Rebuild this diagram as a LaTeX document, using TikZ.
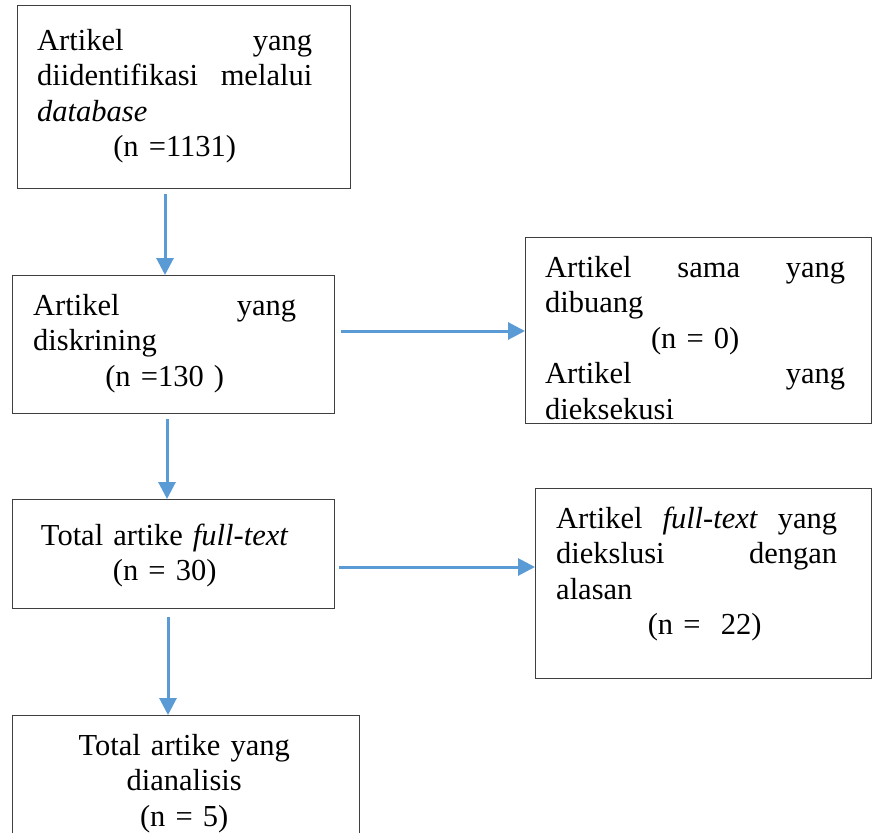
\documentclass[tikz,border=0pt]{standalone}
\usepackage{fontspec}
\setmainfont{Liberation Serif}
\usepackage{tikz}
\usetikzlibrary{arrows.meta, positioning}
\definecolor{flowBlue}{HTML}{5B9BD5}
\definecolor{flowGray}{HTML}{3F3F3F}
\setlength{\parindent}{0pt}

\begin{document}
\begin{tikzpicture}[
  x=1pt, y=-1pt,
  stage/.style={
    rectangle, draw=flowGray, line width=1.3pt,
    inner sep=0pt, anchor=north west,
  },
  stagetext/.style={
    inner sep=0pt, anchor=north west, align=left,
    font=\fontsize{30.5}{35.5}\selectfont,
  },
  arrow/.style={-{Triangle[length=17pt, width=17pt]}, line width=3pt, color=flowBlue},
]
\clip (0,0) rectangle (872,832);

% Boxes
\node[stage, minimum width=333, minimum height=183] (b1) at (17,5) {};
\node[stage, minimum width=322, minimum height=138] (b2) at (12,275) {};
\node[stage, minimum width=345.5, minimum height=186] (b3) at (525,237) {};
\node[stage, minimum width=322, minimum height=109] (b4) at (12,499) {};
\node[stage, minimum width=335.5, minimum height=190] (b5) at (535,488) {};
\node[stage, minimum width=347, minimum height=140] (b6) at (12,715) {};

% Texts
\node[stagetext, text width=275pt] (t1) at (37,25.15)
  {\strut Artikel\hfill yang\\ diidentifikasi\hfill melalui\\ \textit{database}\\
   \makebox[\linewidth]{(n =1131)}};
\node[stagetext, text width=263pt] (t2) at (33,290.15)
  {\strut Artikel\hfill yang\\ diskrining\\ \makebox[\linewidth]{(n =130 )}};
\begin{scope}
  \clip (b3.north west) rectangle (b3.south east);
  \node[stagetext, text width=300pt] (t3) at (545,252.15)
    {\strut Artikel\hfill sama\hfill yang\\ dibuang\\ \makebox[\linewidth]{(n = 0)}\\
     Artikel\hfill yang\\ dieksekusi};
\end{scope}
\node[stagetext, text width=263pt, align=center] (t4) at (33,520.15)
  {\strut Total artike \textit{full-text}\\ (n = 30)};
\node[stagetext, text width=281pt] (t5) at (556,503.15)
  {\strut Artikel\hfill\textit{full-text}\hfill yang\\ diekslusi\hfill dengan\\ alasan\\
   \makebox[\linewidth]{\hspace{16pt}(n = \ 22)}};
\node[stagetext, text width=310pt, align=center] (t6) at (29,730.15)
  {\strut Total artike yang\\ dianalisis\\ (n = 5)};

% Arrows
\draw[arrow] ([yshift=-5pt]b1.south -| 165,0) -- (b2.north -| 165,0);
\draw[arrow] ([yshift=-5pt]b2.south -| 167,0) -- (b4.north -| 167,0);
\draw[arrow] ([yshift=-8pt]b4.south -| 168,0) -- (b6.north -| 168,0);
\draw[arrow] ([xshift=6pt]b2.east |- 0,331) -- (b3.west |- 0,331);
\draw[arrow] ([xshift=4pt]b4.east |- 0,567) -- (b5.west |- 0,567);

\end{tikzpicture}
\end{document}
